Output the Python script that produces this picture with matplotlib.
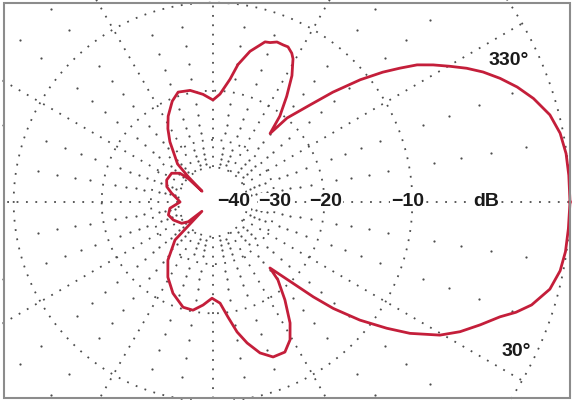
import numpy as np
import matplotlib.pyplot as plt
from matplotlib.patches import Rectangle

plt.rcParams['font.family'] = ['Liberation Sans', 'DejaVu Sans']

# azimuth pattern (deg, clockwise from the main beam) and relative gain in dB
azimuth = [0, 4.3, 8.0, 11.2, 14.5, 17.9, 20.0, 21.8, 24.7, 27.7, 30.4, 33.7,
           36.0, 38.8, 41.5, 43.4, 45.4, 49.2, 50.2, 53.7, 57.5, 60.8, 64.4,
           68.8, 72.7, 76.4, 79.5, 82.6, 86.0, 90.6, 95.5, 100.5, 105.9,
           113.7, 121.0, 127.8, 135.0, 140.0, 141.4, 145.8, 155.6, 163.8,
           171.7, 180.0, 186.0, 192.0, 198.3, 205.4, 214.8, 221.0, 223.5,
           224.5, 225.5, 227.0, 230.4, 234.4, 238.4, 242.4, 248.0, 252.4,
           258.4, 264.7, 270.0, 273.7, 277.9, 280.3, 283.8, 286.7, 288.0,
           289.7, 291.8, 294.1, 295.8, 297.9, 299.2, 302.0, 304.9, 307.9,
           309.8, 311.4, 315.0, 317.5, 320.3, 322.6, 324.4, 326.1, 328.1,
           330.2, 332.2, 334.3, 336.7, 339.3, 342.1, 345.5, 348.8, 352.2,
           355.7, 360.0]
gain_db = [0.0, -0.03, -0.05, -0.15, -0.44, -1.1, -1.75, -2.47, -3.33, -4.23,
           -5.24, -7.05, -8.72, -10.96, -13.7, -16.3, -19.5, -24.2, -21.6,
           -18.5, -15.65, -14.0, -13.1, -13.12, -13.98, -15.46, -17.05, -19.3,
           -21.6, -22.5, -21.25, -20.2, -20.3, -21.9, -24.1, -27.1, -32.5,
           -55.0, -41.6, -38.5, -36.1, -35.0, -36.1, -40.9,
           -39.1, -36.6, -34.2, -33.3, -33.6, -36.0, -40.5, -54.0, -40.0,
           -33.06, -30.6, -27.0, -24.4, -22.4, -20.4, -19.4, -19.6, -20.5,
           -21.5, -20.5, -18.15, -16.1, -14.3, -13.36, -12.9, -12.8, -12.5,
           -12.53, -12.5, -12.9, -13.35, -15.0, -17.5, -20.4, -23.8, -19.9,
           -16.4, -13.5, -10.7, -8.8, -7.55, -6.4, -5.48, -4.6, -3.76, -3.0,
           -2.28, -1.6, -1.0, -0.44, -0.15, -0.03, -0.01, 0.0]

ring_db = [0, -10, -20, -30, -40]
ring_labels = ['\u221240', '\u221230', '\u221220', '\u221210', 'dB']
angle_labels = ['330\u00b0', '30\u00b0']


def arrl(db):
    # ARRL log scale: 0.89 per 2 dB
    return 0.89 ** (-np.asarray(db, dtype=float) / 2)


W, H = 572, 400
cx, cy, R = 213, 202, 357
rmax = 1.01
half = R * rmax

fig = plt.figure(figsize=(W / 100, H / 100), dpi=100)
ax = fig.add_axes([(cx - half) / W, (H - cy - half) / H, 2 * half / W, 2 * half / H],
                  projection='polar')
ax.set_theta_zero_location('E')
ax.set_theta_direction(-1)
ax.set_ylim(0, rmax)
ax.axis('off')

grid_kw = dict(color='#4d4d4d', lw=1.3, dashes=(1, 4.2), zorder=1)
theta = np.linspace(0, 2 * np.pi, 721)
for db in ring_db:
    ax.plot(theta, np.full_like(theta, arrl(db)), **grid_kw)

for a in range(0, 360, 30):
    ax.plot([np.radians(a)] * 2, [arrl(-40), arrl(0)], **grid_kw)

# sparse dots every 2 dB along the 10 degree radials
dot_db = [d for d in range(-38, 0, 2) if d % 10 != 0]
for a in range(0, 360, 10):
    if a % 30 == 0:
        continue
    ax.plot(np.full(len(dot_db), np.radians(a)), arrl(dot_db), ls='none',
            marker='o', ms=1.6, mew=0, color='#4d4d4d', zorder=1)

ax.plot(np.radians(azimuth), arrl(gain_db), color='#c41e3a', lw=2,
        solid_joinstyle='round', zorder=3)

txt_kw = dict(ha='center', va='center', fontsize=14, fontweight='bold',
              color='#1a1a1a', zorder=4,
              bbox=dict(boxstyle='square,pad=0.05', fc='white', ec='none'))
label_r = [0.057, 0.174, 0.314, 0.546, 0.765]
for lab, r in zip(ring_labels, label_r):
    ax.text(0, r, lab, **txt_kw)

ax.text(np.radians(334.4), 0.92, angle_labels[0], **txt_kw)
ax.text(np.radians(26.2), 0.947, angle_labels[1], **txt_kw)

fig.add_artist(Rectangle((3.5 / W, 2.5 / H), 566.5 / W, 395 / H,
                         transform=fig.transFigure, fill=False,
                         ec='#8c8c8c', lw=1.5))

fig.savefig('out.png', dpi=100)
